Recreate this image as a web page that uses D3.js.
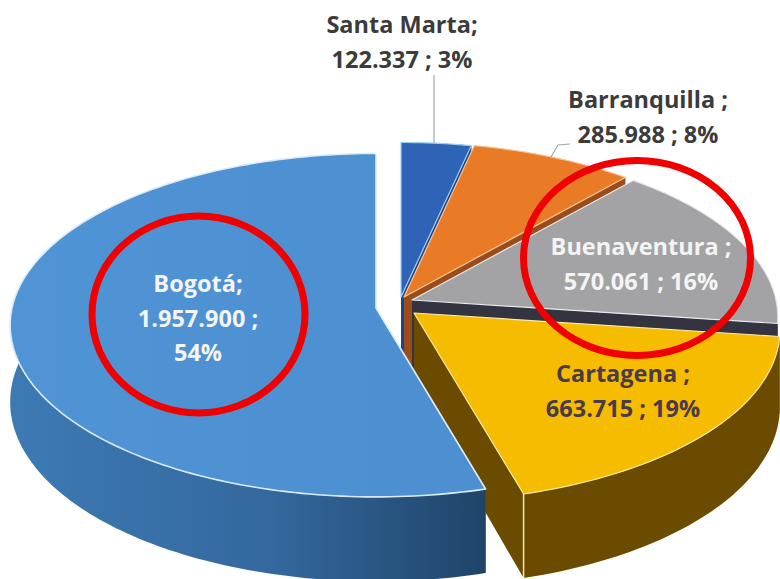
<!DOCTYPE html>
<html>
<head>
<meta charset="utf-8">
<script src="https://cdn.jsdelivr.net/npm/d3@7"></script>
<style>
  html, body { margin: 0; padding: 0; background: #fff; }
  svg { display: block; }
  text { font-family: "Open Sans", Lato, sans-serif; font-weight: 700; font-size: 23.5px; text-anchor: middle; }
</style>
</head>
<body>
<div id="chart"></div>
<script>
// data, clockwise from the top of the pie
const categories = ["Santa Marta", "Barranquilla", "Buenaventura", "Cartagena", "Bogotá"];
const values = [122337, 285988, 570061, 663715, 1957900];
const percents = [3, 8, 16, 19, 54];
const nameSuffix = [";", " ;", " ;", " ;", ";"];

// layout and style per slice (same order as categories)
const apexes = [[401, 297], [404, 297], [412, 300], [414, 313], [376, 308]];
const topColors = ["#2f63b6", "#e97b27", "#a3a3a5", "#f6bc00", "url(#bogotaTop)"];
const wallColors = ["#1d4486", "#9a4c1a", "#33343f", "#6a4b00", "#2b5c8f"];
const sideColors = ["#1d4486", "#9a4c1a", "#33343f", "#6a4b00", "url(#bogotaSide)"];
const edgeColors = ["#9fd0f5", "#f7c49a", "#e8e8ee", "#fbe9a8", "#dcebf9"];
const labelX = [402, 648, 641, 623, 198];
const labelY = [33, 108, 255, 382, 292];
const labelColor = ["#3b3b3b", "#3b3b3b", "#f4f4f4", "#4a3a4a", "#f4f4f4"];

const width = 780, height = 579;
const radiusX = 364, radiusY = 170, perspective = 0.1, depth = 76;

const svg = d3.select("#chart")
  .append("svg")
  .attr("width", width)
  .attr("height", height)
  .attr("viewBox", `0 0 ${width} ${height}`);

// gradients for the big slice
const defs = svg.append("defs");
const sideGrad = defs.append("linearGradient").attr("id", "bogotaSide");
sideGrad.append("stop").attr("offset", "0%").attr("stop-color", "#3d7ab4");
sideGrad.append("stop").attr("offset", "55%").attr("stop-color", "#34689e");
sideGrad.append("stop").attr("offset", "100%").attr("stop-color", "#1f4469");
const topGrad = defs.append("linearGradient").attr("id", "bogotaTop");
topGrad.append("stop").attr("offset", "0%").attr("stop-color", "#4f94d5");
topGrad.append("stop").attr("offset", "100%").attr("stop-color", "#4d8fd0");

const pie = d3.pie().sort(null).startAngle(0).endAngle(2 * Math.PI);
const slices = pie(values);

// tilted circle with a bit of perspective: the back is smaller than the front
function project(apex, angle, lift) {
  const ux = Math.sin(angle), uy = Math.cos(angle);
  const s = 1 / (1 + perspective * uy);
  return [apex[0] + radiusX * ux * s, apex[1] - radiusY * uy * s + lift * s];
}

function arcPoints(apex, a0, a1, lift) {
  const n = Math.max(2, Math.ceil((a1 - a0) / 0.02));
  return d3.range(n + 1).map(i => project(apex, a0 + (a1 - a0) * i / n, lift));
}

const line = d3.line();
const closed = pts => line(pts) + "Z";

slices.forEach((d, i) => {
  const apex = apexes[i];
  const g = svg.append("g").attr("class", "slice");
  const low = [apex[0], apex[1] + depth];

  // walls along the two cuts
  [d.startAngle, d.endAngle].forEach(a => {
    g.append("path")
      .attr("d", closed([apex, project(apex, a, 0), project(apex, a, depth), low]))
      .attr("fill", wallColors[i]);
  });

  // outer rim
  const rimTop = arcPoints(apex, d.startAngle, d.endAngle, 0);
  const rimLow = arcPoints(apex, d.startAngle, d.endAngle, depth).reverse();
  g.append("path")
    .attr("d", closed(rimTop.concat(rimLow)))
    .attr("fill", sideColors[i]);

  // vertical edge at the front corner of Cartagena
  if (i === 3) {
    g.append("path")
      .attr("d", line([project(apex, d.endAngle, 0), project(apex, d.endAngle, depth)]))
      .attr("stroke", edgeColors[i])
      .attr("stroke-width", 1.5)
      .attr("fill", "none");
  }

  // top face
  g.append("path")
    .attr("d", closed([apex].concat(rimTop)))
    .attr("fill", topColors[i])
    .attr("stroke", edgeColors[i])
    .attr("stroke-width", i === 4 ? 1.6 : 1.2)
    .attr("stroke-linejoin", "round");
});

// leader lines
const leaders = [
  [[434, 75], [434, 143]],
  [[570, 144], [558, 145], [551, 157]]
];
svg.selectAll(".leader")
  .data(leaders)
  .enter().append("path")
  .attr("class", "leader")
  .attr("d", d => line(d))
  .attr("fill", "none")
  .attr("stroke", "#a6a6a6")
  .attr("stroke-width", 1.2);

// labels: name; value ; percent, thousands with a dot
const fmt = d3.formatLocale({ decimal: ",", thousands: ".", grouping: [3], currency: ["", ""] }).format(",d");
categories.forEach((name, i) => {
  const big = i === 4;
  const lines = big
    ? [name + nameSuffix[i], fmt(values[i]) + " ;", percents[i] + "%"]
    : [name + nameSuffix[i], fmt(values[i]) + " ; " + percents[i] + "%"];
  const t = svg.append("text").attr("fill", labelColor[i]);
  lines.forEach((s, k) => {
    t.append("tspan")
      .attr("x", labelX[i])
      .attr("y", labelY[i] + k * 34.5)
      .text(s);
  });
});

// red hand-drawn style circles on top
const circles = [
  { cx: 198.5, cy: 314.5, rx: 106.5, ry: 98.5 },
  { cx: 637, cy: 258, rx: 113.5, ry: 97.5 }
];
svg.selectAll(".mark-circle")
  .data(circles)
  .enter().append("ellipse")
  .attr("class", "mark-circle")
  .attr("cx", d => d.cx)
  .attr("cy", d => d.cy)
  .attr("rx", d => d.rx)
  .attr("ry", d => d.ry)
  .attr("fill", "none")
  .attr("stroke", "#f00000")
  .attr("stroke-width", 7);
</script>
</body>
</html>
